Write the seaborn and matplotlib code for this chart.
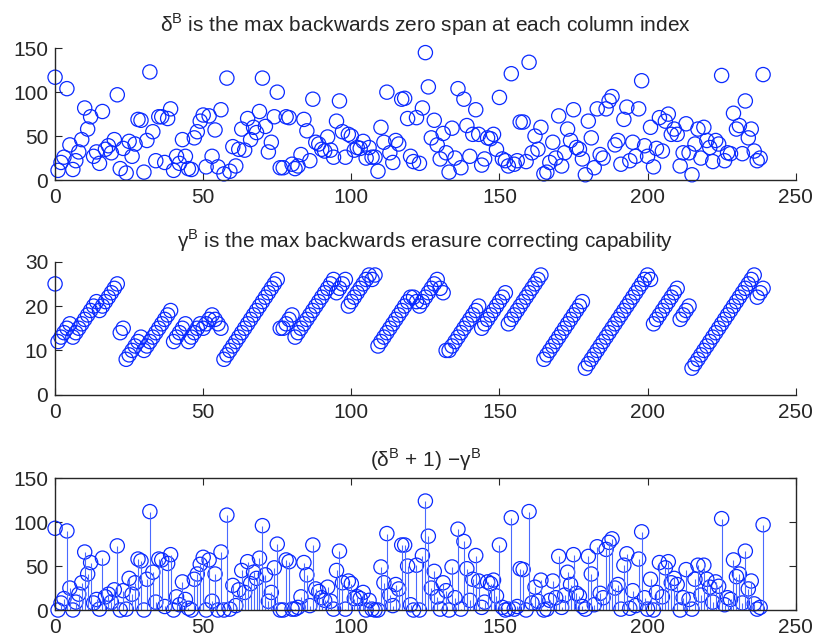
import matplotlib
matplotlib.use("Agg")
import matplotlib.pyplot as plt
import seaborn as sns
import pandas as pd

# column index of the code (x axis of all three panels)
column_index = list(range(240))

# max backwards zero span at each column index
delta_b = [
    117, 11, 20, 26, 104, 40, 12, 22, 32, 46,
    82, 58, 72, 27, 32, 19, 78, 35, 39, 31,
    46, 97, 13, 36, 8, 44, 27, 41, 69, 68,
    9, 45, 123, 55, 22, 72, 72, 20, 70, 81,
    11, 27, 19, 46, 27, 13, 12, 48, 55, 67,
    74, 15, 73, 27, 57, 15, 80, 7, 116, 10,
    38, 16, 35, 58, 34, 70, 46, 60, 54, 78,
    116, 61, 32, 43, 72, 100, 14, 14, 72, 71,
    18, 13, 16, 29, 69, 56, 22, 92, 43, 41,
    35, 33, 49, 34, 26, 67, 90, 55, 26, 52,
    50, 34, 37, 36, 44, 25, 37, 26, 26, 10,
    60, 43, 100, 31, 20, 45, 41, 92, 93, 70,
    27, 21, 71, 19, 82, 145, 106, 48, 68, 40,
    24, 53, 31, 9, 59, 25, 104, 14, 92, 62,
    27, 52, 80, 52, 17, 24, 48, 47, 52, 35,
    94, 24, 22, 16, 121, 18, 22, 66, 66, 21,
    134, 31, 50, 35, 60, 7, 9, 20, 43, 25,
    73, 16, 31, 58, 45, 80, 37, 35, 24, 6,
    67, 48, 14, 81, 29, 25, 81, 90, 95, 40,
    45, 18, 69, 83, 22, 43, 27, 81, 113, 39,
    27, 60, 15, 36, 71, 33, 67, 75, 52, 58,
    52, 16, 31, 64, 31, 6, 41, 58, 25, 60,
    45, 37, 21, 45, 41, 119, 22, 31, 30, 76,
    58, 62, 30, 90, 48, 58, 33, 22, 25, 120,
]

# max backwards erasure correcting capability
gamma_b = [
    25, 12, 13, 14, 15, 16, 13, 14, 15, 16,
    17, 18, 19, 20, 21, 19, 20, 21, 22, 23,
    24, 25, 14, 15, 8, 9, 10, 11, 12, 13,
    10, 11, 12, 13, 14, 15, 16, 17, 18, 19,
    12, 13, 14, 15, 16, 12, 13, 14, 15, 16,
    15, 16, 17, 18, 17, 16, 15, 8, 9, 10,
    11, 12, 13, 14, 15, 16, 17, 18, 19, 20,
    21, 22, 23, 24, 25, 26, 15, 15, 16, 17,
    18, 13, 14, 15, 16, 17, 18, 19, 20, 21,
    22, 23, 24, 25, 26, 23, 24, 25, 26, 20,
    21, 22, 23, 24, 25, 26, 27, 26, 27, 11,
    12, 13, 14, 15, 16, 17, 18, 19, 20, 21,
    22, 22, 21, 20, 21, 22, 23, 24, 25, 26,
    24, 23, 10, 10, 11, 12, 13, 14, 15, 16,
    17, 18, 19, 20, 15, 16, 17, 18, 19, 20,
    21, 22, 23, 16, 17, 18, 19, 20, 21, 22,
    23, 24, 25, 26, 27, 8, 9, 10, 11, 12,
    13, 14, 15, 16, 17, 18, 19, 20, 21, 6,
    7, 8, 9, 10, 11, 12, 13, 14, 15, 16,
    17, 18, 19, 20, 21, 22, 23, 24, 25, 26,
    27, 26, 16, 17, 18, 19, 20, 21, 22, 23,
    24, 17, 18, 19, 20, 6, 7, 8, 9, 10,
    11, 12, 13, 14, 15, 16, 17, 18, 19, 20,
    21, 22, 23, 24, 25, 26, 27, 22, 23, 24,
]

# (delta + 1) - gamma
diff_b = [
    93, 0, 8, 13, 90, 25, 0, 9, 18, 31,
    66, 41, 54, 8, 12, 1, 59, 15, 18, 9,
    23, 73, 0, 22, 1, 36, 18, 31, 58, 56,
    0, 35, 112, 43, 9, 58, 57, 4, 53, 63,
    0, 15, 6, 32, 12, 2, 0, 35, 41, 52,
    60, 0, 57, 10, 41, 0, 66, 0, 108, 1,
    28, 5, 23, 45, 20, 55, 30, 43, 36, 59,
    96, 40, 10, 20, 48, 75, 0, 0, 57, 55,
    1, 1, 3, 15, 54, 40, 5, 74, 24, 21,
    14, 11, 26, 10, 1, 45, 67, 31, 1, 33,
    30, 13, 15, 13, 20, 0, 11, 1, 0, 0,
    49, 31, 87, 17, 5, 29, 24, 74, 74, 50,
    6, 0, 51, 0, 62, 124, 84, 25, 44, 15,
    1, 31, 22, 0, 49, 14, 92, 1, 78, 47,
    11, 35, 62, 33, 3, 9, 32, 30, 34, 16,
    74, 3, 0, 1, 105, 1, 4, 47, 46, 0,
    112, 8, 26, 10, 34, 0, 1, 11, 33, 14,
    61, 3, 17, 43, 29, 63, 19, 16, 4, 1,
    61, 41, 6, 72, 19, 14, 69, 77, 81, 25,
    29, 1, 51, 64, 2, 22, 5, 58, 89, 14,
    1, 35, 0, 20, 54, 15, 48, 55, 31, 36,
    29, 0, 14, 46, 12, 1, 35, 51, 17, 51,
    35, 26, 9, 32, 27, 104, 6, 14, 12, 57,
    38, 41, 8, 67, 24, 33, 7, 1, 3, 97,
]

x_ticks = [0, 50, 100, 150, 200, 250]

df = pd.DataFrame({"column": column_index, "delta": delta_b,
                   "gamma": gamma_b, "diff": diff_b})

sns.set_style("ticks")
plt.rcParams["font.family"] = ["Liberation Sans", "DejaVu Sans"]
plt.rcParams["mathtext.fontset"] = "custom"
plt.rcParams["mathtext.rm"] = "Liberation Sans"
plt.rcParams["font.size"] = 15
plt.rcParams["xtick.direction"] = "in"
plt.rcParams["ytick.direction"] = "in"
plt.rcParams["axes.linewidth"] = 1.0

blue = "#0a2aff"
stem_blue = "#4a6aff"
marker_kw = dict(marker="o", s=105, facecolor="none", edgecolor=blue,
                 linewidth=0.9, clip_on=False, legend=False)

fig = plt.figure(figsize=(8.22, 6.43), dpi=100)
ax1 = fig.add_axes([0.067, 0.72, 0.901, 0.205])
ax2 = fig.add_axes([0.067, 0.386, 0.901, 0.207])
ax3 = fig.add_axes([0.067, 0.0513, 0.901, 0.205])

# top: zero span
sns.scatterplot(data=df, x="column", y="delta", ax=ax1, **marker_kw)
ax1.set_ylim(0, 150)
ax1.set_yticks([0, 50, 100, 150])
ax1.set_title("δ$^{\\mathregular{B}}$ is the max backwards zero span at each column index",
              fontsize=15, pad=12)
sns.despine(ax=ax1)

# middle: erasure correcting capability
sns.scatterplot(data=df, x="column", y="gamma", ax=ax2, **marker_kw)
ax2.set_ylim(0, 30)
ax2.set_yticks([0, 10, 20, 30])
ax2.set_title("γ$^{\\mathregular{B}}$ is the max backwards erasure correcting capability",
              fontsize=15, pad=10)
sns.despine(ax=ax2)

# bottom: stem plot of the difference
ax3.vlines(df["column"], 0, df["diff"], color=stem_blue, linewidth=0.8)
sns.scatterplot(data=df, x="column", y="diff", ax=ax3, **marker_kw)
ax3.set_ylim(0, 150)
ax3.set_yticks([0, 50, 100, 150])
ax3.set_title("(δ$^{\\mathregular{B}}$ + 1) −γ$^{\\mathregular{B}}$", fontsize=15, pad=8)
ax3.tick_params(top=True, right=True)

for ax in (ax1, ax2, ax3):
    ax.set_xlim(0, 250)
    ax.set_xticks(x_ticks)
    ax.set_xlabel("")
    ax.set_ylabel("")
    ax.tick_params(length=5, width=0.8, labelsize=15)
    ax.tick_params(axis="x", pad=6)
    ax.tick_params(axis="y", pad=5)

fig.savefig("out.png", dpi=100)
